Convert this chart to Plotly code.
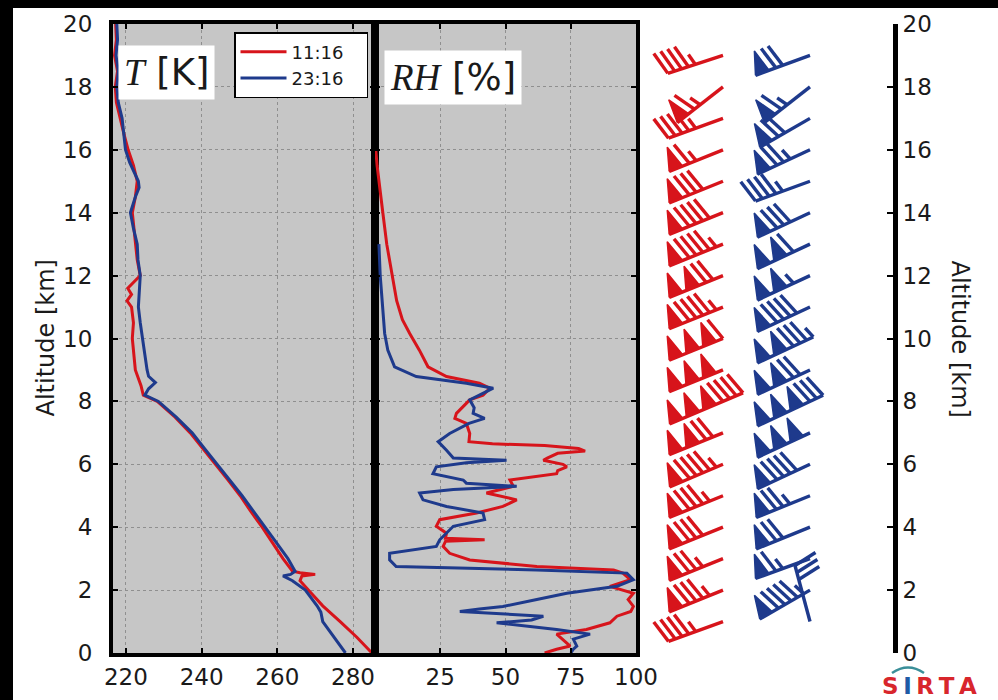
import numpy as np
import plotly.graph_objects as go

# ---------------- data ----------------
# Temperature profiles [K] vs altitude [km]
alt_T_1116 = [0, 0.5, 1, 1.5, 2, 2.3, 2.45, 2.5, 2.55, 2.6, 3, 3.5, 4, 4.5, 5, 5.5, 6, 6.5, 7, 7.5, 8,
              8.2, 8.5, 9, 9.5, 10, 10.5, 11, 11.2, 11.4, 11.6, 12, 12.5, 13, 13.5, 14, 14.5, 15, 15.5,
              16, 16.5, 17, 17.5, 18, 18.5, 19, 19.5, 20]
T_1116 = [285, 281, 276.6, 272, 268.2, 266, 266.5, 270, 266, 264, 261.5, 258.8, 256, 253, 250.2, 247,
          243.6, 240.3, 237, 233, 228.3, 224.6, 224, 222.5, 222, 221.7, 222, 221.5, 220.3, 221.5, 220.5,
          223.8, 223, 222.5, 222, 221.7, 222.5, 223, 222, 220.6, 219.5, 218.5, 217.5, 217.2, 217.8, 217,
          217.5, 217.3]
alt_T_2316 = [0, 0.5, 1, 1.3, 1.5, 2, 2.3, 2.45, 2.5, 2.6, 3, 3.5, 4, 4.5, 5, 5.5, 6, 6.5, 7, 7.5, 8,
              8.2, 8.4, 8.6, 8.8, 9, 9.5, 10, 10.5, 11, 11.5, 12, 12.5, 13, 13.5, 14, 14.5, 14.8, 15,
              15.3, 15.6, 16, 16.5, 17, 17.5, 18, 18.5, 19, 19.5, 20]
T_2316 = [278, 275, 272, 271.5, 270.5, 267.4, 264, 261.5, 263.5, 264.7, 262.8, 259.8, 256.8, 253.8,
          250.7, 247.4, 244, 240.8, 237.5, 233.3, 228.6, 225, 226, 227.8, 226, 225.6, 225, 224.3, 223.8,
          223.3, 223.5, 223.8, 223.2, 223, 222, 221.2, 222.5, 223.5, 223.3, 222.2, 221, 219.9, 219.5,
          219, 218, 217.6, 218, 217.4, 217.8, 217.6]

# Relative humidity profiles [%] vs altitude [km]
alt_RH_1116 = [0, 0.12, 0.22, 0.44, 0.6, 0.75, 0.96, 1.17, 1.32, 1.48, 1.7, 1.9, 2.12, 2.33, 2.54, 2.64,
               2.75, 2.96, 3.17, 3.39, 3.55, 3.6, 3.65, 3.81, 4.03, 4.24, 4.45, 4.66, 4.87, 5.09, 5.3,
               5.5, 5.6, 5.7, 5.8, 5.92, 6.0, 6.13, 6.2, 6.35, 6.42, 6.5, 6.6, 6.65, 6.72, 6.98, 7.3,
               7.46, 7.62, 8.05, 8.2, 8.42, 8.58, 8.79, 9.1, 9.63, 10.16, 10.6, 11.2, 12, 13, 14, 15,
               15.5, 16]
RH_1116 = [65, 69.6, 74.8, 72, 69.6, 81, 90, 92.7, 98, 99, 97, 99, 90, 97.8, 95, 91.4, 62, 36.3, 28.6,
           26.1, 27, 42, 27, 27.4, 23.5, 24.8, 38.9, 49, 54.3, 42.7, 53, 51.7, 60, 69.6, 70, 73.5, 72,
           64.5, 66, 70, 80.5, 78, 65, 45, 36, 36.3, 35, 30.6, 31.2, 36.3, 41.4, 44, 40, 27.4, 20.3, 17,
           13.3, 10.5, 8.3, 6.5, 4.5, 3, 1.5, 0.8, 0.3]
alt_RH_2316 = [0, 0.12, 0.22, 0.44, 0.6, 0.75, 0.96, 1.05, 1.17, 1.25, 1.32, 1.4, 1.48, 1.7, 1.9, 2.12,
               2.33, 2.54, 2.64, 2.75, 2.96, 3.17, 3.39, 3.6, 3.81, 4.03, 4.24, 4.45, 4.66, 4.87, 5.09,
               5.2, 5.3, 5.4, 5.5, 5.7, 5.92, 6.05, 6.13, 6.2, 6.45, 6.72, 6.98, 7.3, 7.46, 7.62, 7.8,
               8.05, 8.2, 8.42, 8.58, 8.79, 9.1, 9.63, 10.16, 11.2, 12, 13]
RH_2316 = [75, 76, 77.3, 76, 82.4, 69.6, 46.6, 60, 64.5, 45, 32.5, 40, 49, 62, 73.5, 92.7, 99, 96.5, 62,
           8.1, 5.6, 5.6, 23.5, 24.8, 27.4, 30, 42, 41.4, 27.4, 18.4, 17.1, 30, 54.3, 35, 33.8, 22.2,
           23.5, 35, 50.4, 30, 27.4, 24.2, 28.6, 36, 42, 37.6, 38, 36.3, 40, 45.3, 35, 15.8, 7.5, 4.9,
           3.7, 2.8, 2, 1.5]

# Wind barbs: altitude [km], speed [m/s], direction [deg, from]
wind_alt = [1, 2, 3, 4, 5, 6, 7, 8, 9, 10, 11, 12, 13, 14, 15, 16, 17, 18, 19]
wspd_1116 = [9, 17, 15, 16, 17, 19, 24, 38, 30, 32, 19, 24, 19, 18, 16, 13, 9, 13, 9]
wdir_1116 = [250, 248, 248, 248, 248, 247, 248, 247, 248, 248, 248, 248, 248, 248, 248, 248, 250, 232, 252]
wspd_2316 = [6, 19, 13, 14, 15, 18, 30, 36, 24, 27, 18, 21, 22, 16, 9, 15, 14, 13, 14]
wdir_2316 = [345, 240, 250, 248, 248, 245, 245, 245, 245, 245, 245, 245, 245, 245, 250, 245, 240, 232, 250]

series_names = ["11:16", "23:16"]
x_ticks_T = [220, 240, 260, 280]
x_ticks_RH = [25, 50, 75, 100]
alt_ticks = list(range(0, 21, 2))

# barb increments (m/s)
HALF, FULL, FLAG = 1, 2, 10

# ---------------- layout constants ----------------
W, H = 998, 700
RED = "#d7141b"
BLUE = "#1e3a8c"
PANEL_BG = "#c6c6c6"
PLOT_TOP, PLOT_BOT = 24, 653
T_L, T_R = 113, 375
RH_L, RH_R = 375, 636
B_L, B_R = 640, 893
PX_PER_KM = (PLOT_BOT - PLOT_TOP) / 20.0
BARB_LEN = 58
RED_X, BLUE_X = 723 - B_L, 810 - B_L

def fx(px):
    return px / W

def fy(py):
    return 1 - py / H

ydom = [fy(PLOT_BOT), fy(PLOT_TOP)]


def barb(xp, z, spd, ddeg):
    L = BARB_LEN
    sp = 0.125 * L
    fh = 0.4 * L
    fw = 0.25 * L
    nfl = int(spd // FLAG)
    r = spd - nfl * FLAG
    nfu = int(r // FULL)
    r -= nfu * FULL
    half = r >= HALF
    t = np.deg2rad(ddeg)
    sx, sy = np.sin(t), np.cos(t)
    qx, qy = sy, -sx

    def pt(off, h):
        return (xp + off * sx + h * qx, z + (off * sy + h * qy) / PX_PER_KM)

    lines, polys = [], []
    off = L
    lo = 0.0
    for i in range(nfl):
        if i > 0:
            off += sp / 2
        polys.append([pt(off, 0), pt(off - fw / 2, fh), pt(off - fw, 0)])
        lo = min(lo, off - fw)
        off -= fw + sp
    for i in range(nfu):
        lines.append([pt(off, 0), pt(off + fw / 2, fh)])
        lo = min(lo, off)
        off -= sp
    if half:
        if nfl == 0 and nfu == 0:
            off -= 1.5 * sp
        lines.append([pt(off, 0), pt(off + fw / 4, fh / 2)])
        lo = min(lo, off)
    lines.append([pt(lo, 0), pt(L, 0)])
    return lines, polys


def barb_traces(xp, alts, spds, dirs, color):
    lx, ly, fxs, fys = [], [], [], []
    for z, s, d in zip(alts, spds, dirs):
        lines, polys = barb(xp, z, s, d)
        for seg in lines:
            for p in seg:
                lx.append(p[0]); ly.append(p[1])
            lx.append(None); ly.append(None)
        for poly in polys:
            for p in poly + [poly[0]]:
                fxs.append(p[0]); fys.append(p[1])
            fxs.append(None); fys.append(None)
    tr_lines = go.Scatter(x=lx, y=ly, mode="lines", line=dict(color=color, width=3.4),
                          xaxis="x3", yaxis="y3", showlegend=False, hoverinfo="skip")
    tr_flags = go.Scatter(x=fxs, y=fys, mode="lines", fill="toself", fillcolor=color,
                          line=dict(color=color, width=1.5), xaxis="x3", yaxis="y3",
                          showlegend=False, hoverinfo="skip")
    return [tr_flags, tr_lines]


fig = go.Figure()
# Temperature
pad = "\u00a0\u00a0\u00a0"
fig.add_trace(go.Scatter(x=T_1116, y=alt_T_1116, mode="lines", name=series_names[0] + pad,
                         line=dict(color=RED, width=3), xaxis="x", yaxis="y"))
fig.add_trace(go.Scatter(x=T_2316, y=alt_T_2316, mode="lines", name=series_names[1] + pad,
                         line=dict(color=BLUE, width=3), xaxis="x", yaxis="y"))
# RH
fig.add_trace(go.Scatter(x=RH_1116, y=alt_RH_1116, mode="lines", showlegend=False,
                         line=dict(color=RED, width=3), xaxis="x2", yaxis="y2"))
fig.add_trace(go.Scatter(x=RH_2316, y=alt_RH_2316, mode="lines", showlegend=False,
                         line=dict(color=BLUE, width=3), xaxis="x2", yaxis="y2"))
# Barbs
for tr in barb_traces(RED_X, wind_alt, wspd_1116, wdir_1116, RED):
    fig.add_trace(tr)
for tr in barb_traces(BLUE_X, wind_alt, wspd_2316, wdir_2316, BLUE):
    fig.add_trace(tr)

tickfont = dict(family="DejaVu Sans", size=23, color="#1a1a1a")
common = dict(showline=True, linecolor="black", linewidth=4, mirror="ticks", ticks="inside",
              ticklen=5, tickwidth=1.5, tickcolor="black", showgrid=True, gridcolor="#8f8f8f",
              griddash="dot", gridwidth=1, zeroline=False, tickfont=tickfont, automargin=False)

fig.update_layout(
    width=W, height=H, margin=dict(l=0, r=0, t=0, b=0),
    paper_bgcolor="white", plot_bgcolor="white",
    xaxis=dict(domain=[fx(T_L), fx(T_R)], range=[216.6, 285.8], tickvals=x_ticks_T,
               anchor="y", ticklabelstandoff=0, **common),
    yaxis=dict(domain=ydom, range=[0, 20], tickvals=alt_ticks, anchor="x",
               ticklabelstandoff=12, **common),
    xaxis2=dict(domain=[fx(RH_L), fx(RH_R)], range=[0, 100], tickvals=x_ticks_RH,
                anchor="y2", ticklabelstandoff=0, **common),
    yaxis2=dict(domain=ydom, range=[0, 20], tickvals=alt_ticks, anchor="x2",
                showticklabels=False, **common),
    xaxis3=dict(domain=[fx(B_L), fx(B_R)], range=[0, B_R - B_L], visible=False, anchor="y3",
                fixedrange=True),
    yaxis3=dict(domain=ydom, range=[0, 20], tickvals=alt_ticks, anchor="x3", side="right",
                showline=True, linecolor="black", linewidth=5, ticks="inside", ticklen=6,
                tickwidth=1.5, tickcolor="black", showgrid=False, zeroline=False,
                tickfont=tickfont, automargin=False, ticklabelstandoff=0),
    legend=dict(x=fx(234), y=fy(32), xanchor="left", yanchor="top", bgcolor="white",
                bordercolor="black", borderwidth=1.5,
                font=dict(family="DejaVu Sans", size=18, color="#1a1a1a"),
                tracegroupgap=0, itemwidth=46),
    showlegend=True,
)

shapes = []
# gray panel backgrounds
for xr, yr in [("x domain", "y domain"), ("x2 domain", "y2 domain")]:
    shapes.append(dict(type="rect", xref=xr, yref=yr, x0=0, x1=1, y0=0, y1=1,
                       fillcolor=PANEL_BG, line=dict(width=0), layer="below"))
# black frame bands
shapes.append(dict(type="rect", xref="paper", yref="paper", x0=0, x1=1, y0=fy(8), y1=1,
                   fillcolor="black", line=dict(width=0), layer="above"))
shapes.append(dict(type="rect", xref="paper", yref="paper", x0=0, x1=fx(13), y0=0, y1=1,
                   fillcolor="black", line=dict(width=0), layer="above"))
# SIRTA logo arc
shapes.append(dict(type="path", xref="paper", yref="paper",
                   path=f"M {fx(892)},{fy(673)} Q {fx(908)},{fy(662)} {fx(924)},{fy(673)}",
                   line=dict(color="#3a8f99", width=2.5)))
fig.update_layout(shapes=shapes)

annotations = [
    dict(text="<span style=\"font-family:'Liberation Serif'\"><i>T</i></span> [K]",
         xref="paper", yref="paper", x=fx(118), y=fy(45), xanchor="left", yanchor="top",
         showarrow=False, bgcolor="white", borderpad=5,
         font=dict(family="DejaVu Sans", size=37, color="#1a1a1a")),
    dict(text="<span style=\"font-family:'Liberation Serif'\"><i>RH</i></span> [%]",
         xref="paper", yref="paper", x=fx(384), y=fy(50), xanchor="left", yanchor="top",
         showarrow=False, bgcolor="white", borderpad=5,
         font=dict(family="DejaVu Sans", size=37, color="#1a1a1a")),
    dict(text="Altitude [km]", xref="paper", yref="paper", x=fx(45), y=fy((PLOT_TOP + PLOT_BOT) / 2),
         xanchor="center", yanchor="middle",
         textangle=-90, showarrow=False, font=dict(family="DejaVu Sans", size=24, color="#1a1a1a")),
    dict(text="Altitude [km]", xref="paper", yref="paper", x=fx(960), y=fy((PLOT_TOP + PLOT_BOT) / 2),
         xanchor="center", yanchor="middle",
         textangle=90, showarrow=False, font=dict(family="DejaVu Sans", size=24, color="#1a1a1a")),
    dict(text="<b><span style=\"color:#d8262c\">S\u2009</span><span style=\"color:#1f5aa6\">I</span>"
              "<span style=\"color:#d8262c\">\u2009R\u2009T\u2009A</span></b>",
         xref="paper", yref="paper", x=fx(929), y=fy(686), xanchor="center", yanchor="middle",
         showarrow=False, font=dict(family="DejaVu Sans", size=23)),
]
fig.update_layout(annotations=annotations)

fig.write_html("out.html")
